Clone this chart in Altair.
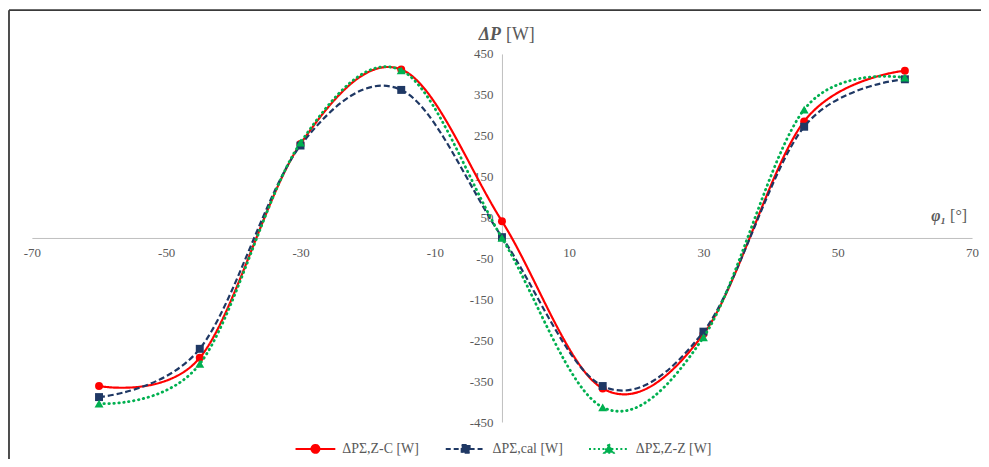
import altair as alt
import pandas as pd

# ---- data ----
phi = [-60, -45, -30, -15, 0, 15, 30, 45, 60]
dp_zc = [-362, -293, 230, 412, 41, -368, -235, 285, 409]
dp_cal = [-389, -271, 226, 362, 2, -362, -229, 272, 388]
dp_zz = [-405, -308, 233, 410, 0, -414, -243, 314, 392]

names = ["ΔPΣ,Z-C [W]", "ΔPΣ,cal [W]", "ΔPΣ,Z-Z [W]"]
colors = ["#ff0000", "#1f3864", "#00b050"]
x_ticks = [-70, -50, -30, -10, 10, 30, 50, 70]
y_ticks = [-450, -350, -250, -150, -50, 50, 150, 250, 350, 450]

W, H = 945, 370
FONT = "Liberation Serif"
GREY = "#595959"

series = [
    (names[0], dp_zc, colors[0], [1, 0], "circle", 64, 2.2),
    (names[1], dp_cal, colors[1], [6, 3], "square", 64, 2.2),
    (names[2], dp_zz, colors[2], [0.5, 4.5], "triangle-up", 81, 2.8),
]

xs = alt.Scale(domain=[-70, 70], nice=False, zero=False)
ys = alt.Scale(domain=[-450, 450], nice=False, zero=False)

LBL = "'' + datum.value"
x_axis = alt.Axis(values=x_ticks, orient="bottom", offset=-H / 2, domainColor="#bfbfbf",
                  domainWidth=1, ticks=False, tickSize=0, labelPadding=9, labelFont=FONT,
                  labelFontSize=13, labelColor=GREY, grid=False, title=None,
                  labelFlush=False, labelOverlap=False, labelExpr=LBL)
y_axis = alt.Axis(values=y_ticks, orient="left", offset=-W / 2, domainColor="#bfbfbf",
                  domainWidth=1, ticks=False, tickSize=0, labelPadding=9, labelFont=FONT,
                  labelFontSize=13, labelColor=GREY, grid=False, title=None,
                  labelFlush=False, labelOverlap=False, labelExpr=LBL)

layers = []
first = True
for name, vals, col, dash, shape, size, sw in series:
    df = pd.DataFrame({"phi": phi, "dp": vals})
    base = alt.Chart(df)
    if first:
        xenc = alt.X("phi:Q", scale=xs, axis=x_axis)
        yenc = alt.Y("dp:Q", scale=ys, axis=y_axis)
        first = False
    else:
        xenc = alt.X("phi:Q", scale=xs)
        yenc = alt.Y("dp:Q", scale=ys)
    line = base.mark_line(color=col, strokeDash=dash, strokeWidth=sw,
                          interpolate="cardinal", tension=0,
                          strokeCap="round" if shape == "triangle-up" else "butt").encode(x=xenc, y=yenc)
    pts = base.mark_point(shape=shape, size=size, filled=True, color=col, opacity=1).encode(
        x=alt.X("phi:Q", scale=xs), y=alt.Y("dp:Q", scale=ys))
    layers += [line, pts]

# ---- legend (from an invisible layer) ----
leg_df = pd.DataFrame({"s": names, "phi": [0, 0, 0], "dp": [0, 0, 0]})
paths = [
    "M-1,0L1,0M0.2,0A0.2,0.2,0,1,1,-0.2,0A0.2,0.2,0,1,1,0.2,0Z",
    "M-1,0L1,0M-0.2,-0.2L0.2,-0.2L0.2,0.2L-0.2,0.2Z",
    "M-1,0L1,0M0,-0.25L0.24,0.19L-0.24,0.19Z",
]
leg_props = dict(orient="none", legendX=264, legendY=376, direction="horizontal", title=None,
                 labelFont=FONT, labelFontSize=14, labelColor=GREY, symbolSize=1600,
                 symbolStrokeWidth=2, symbolOpacity=1, labelOffset=6, columnPadding=22,
                 padding=0)
legend_layer = alt.Chart(leg_df).mark_point(opacity=0, filled=False, strokeWidth=2).encode(
    x=alt.X("phi:Q", scale=xs),
    y=alt.Y("dp:Q", scale=ys),
    color=alt.Color("s:N", scale=alt.Scale(domain=names, range=colors), legend=alt.Legend(**leg_props), sort=names),
    fill=alt.Fill("s:N", scale=alt.Scale(domain=names, range=colors), legend=alt.Legend(**leg_props), sort=names),
    shape=alt.Shape("s:N", scale=alt.Scale(domain=names, range=paths), legend=alt.Legend(**leg_props), sort=names),
    strokeDash=alt.StrokeDash("s:N", scale=alt.Scale(domain=names, range=[[1, 0], [5, 3], [2, 2.5]]),
                              legend=alt.Legend(**leg_props), sort=names),
)
layers.append(legend_layer)

# ---- axis titles ----
one = alt.Chart(pd.DataFrame({"k": [0]}))
t1 = one.mark_text(text="ΔP", font=FONT, fontSize=18, fontWeight="bold", fontStyle="italic",
                   color=GREY, align="right", baseline="middle", dx=-1, dy=-19).encode(
    x=alt.X("k:Q", scale=xs), y=alt.datum(450))
t2 = one.mark_text(text="[W]", font=FONT, fontSize=18, color=GREY, align="left",
                   baseline="middle", dx=4, dy=-19).encode(x=alt.X("k:Q", scale=xs), y=alt.datum(450))
t3 = one.mark_text(text="φ₁", font=FONT, fontSize=16, fontWeight="bold", fontStyle="italic",
                   color=GREY, align="right", baseline="middle", dx=-26, dy=-22).encode(
    x=alt.datum(70), y=alt.datum(0))
t4 = one.mark_text(text="[°]", font=FONT, fontSize=16, color=GREY, align="right",
                   baseline="middle", dx=-5, dy=-22).encode(x=alt.datum(70), y=alt.datum(0))

# ---- outer frame (left and top edges) ----
frame_l = one.mark_rule(color="#3a3a3a", strokeWidth=1.8).encode(
    x=alt.value(-23), y=alt.value(-44), y2=alt.value(H + 40))
frame_t = one.mark_rule(color="#3a3a3a", strokeWidth=1.8).encode(
    x=alt.value(-23), x2=alt.value(W + 12), y=alt.value(-44))

chart = alt.layer(*layers, t1, t2, t3, t4, frame_l, frame_t).properties(
    width=W, height=H,
    autosize=alt.AutoSizeParams(type="none"),
    padding={"left": 24, "top": 45, "right": 9, "bottom": 36},
).configure(background="white").configure_view(strokeWidth=0, stroke="transparent")

chart.save("out.html", embed_options={"renderer": "svg", "actions": False})
